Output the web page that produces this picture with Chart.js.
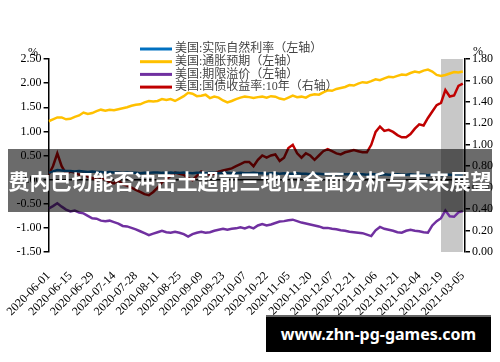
<!DOCTYPE html>
<html>
<head>
<meta charset="utf-8">
<script src="https://cdn.jsdelivr.net/npm/chart.js@4.4.0/dist/chart.umd.min.js"></script>
<style>
html, body { margin: 0; padding: 0; background: #fff; }
#wrap { position: relative; width: 500px; height: 362px; overflow: hidden; }
#banner { position: absolute; left: 8px; top: 149px; width: 484px; height: 63px; background: rgba(0,0,0,0.58);
  color: #fff; font: bold 21px "Noto Sans CJK SC", sans-serif; line-height: 63px; text-align: center; white-space: nowrap; }
#footer { position: absolute; left: 266px; top: 315px; width: 225px; height: 35px; background: #000; border-top: 2px solid #666;
  color: #fff; font: bold 16px "Noto Sans", sans-serif; line-height: 35px; text-align: center; white-space: nowrap; }
</style>
</head>
<body>
<div id="wrap">
  <canvas id="chart" width="500" height="362"></canvas>
  <div id="banner">费内巴切能否冲击土超前三地位全面分析与未来展望</div>
  <div id="footer">www.zhn-pg-games.com</div>
</div>
<script>
// one value every 2 trading days, 2020-06-01 .. 2021-03-05
const STEP = 2;
const tickLabels = ['2020-06-01','2020-06-15','2020-06-29','2020-07-14','2020-07-28','2020-08-11','2020-08-25',
  '2020-09-09','2020-09-23','2020-10-07','2020-10-22','2020-11-05','2020-11-20','2020-12-07','2020-12-21',
  '2021-01-06','2021-01-21','2021-02-04','2021-02-19','2021-03-05'];
const leftTicks = [-1.5, -1.0, -0.5, 0, 0.5, 1.0, 1.5, 2.0, 2.5];
const rightTicks = [0, 0.2, 0.4, 0.6, 0.8, 1.0, 1.2, 1.4, 1.6, 1.8];
const shadeFrom = 180, shadeTo = 190;

const seriesNames = ['美国:实际自然利率（左轴）', '美国:通胀预期（左轴）', '美国:期限溢价（左轴）', '美国:国债收益率:10年（右轴）'];

const realRate = [0.14,0.17,0.20,0.19,0.18,0.18,0.17,0.18,0.17,0.16,
  0.17,0.16,0.16,0.15,0.16,0.15,0.15,0.14,0.15,0.14,
  0.14,0.13,0.14,0.14,0.15,0.15,0.14,0.14,0.15,0.14,
  0.14,0.15,0.14,0.13,0.14,0.14,0.13,0.14,0.14,0.13,
  0.14,0.14,0.13,0.13,0.14,0.13,0.13,0.14,0.13,0.13,
  0.12,0.13,0.13,0.12,0.13,0.12,0.12,0.13,0.12,0.12,
  0.11,0.12,0.12,0.11,0.12,0.11,0.11,0.12,0.11,0.11,
  0.12,0.11,0.11,0.10,0.11,0.11,0.10,0.11,0.10,0.10,
  0.11,0.10,0.10,0.11,0.10,0.10,0.10,0.09,0.10,0.10,
  0.09,0.10,0.10,0.09,0.10,0.10];

const inflationExp = [1.21,1.25,1.29,1.29,1.25,1.26,1.30,1.33,1.39,1.36,
  1.38,1.42,1.45,1.43,1.45,1.44,1.46,1.48,1.50,1.53,
  1.55,1.56,1.60,1.63,1.62,1.63,1.67,1.65,1.67,1.63,
  1.68,1.73,1.80,1.78,1.73,1.74,1.76,1.69,1.72,1.70,
  1.64,1.60,1.63,1.67,1.70,1.72,1.71,1.69,1.71,1.72,
  1.70,1.73,1.72,1.68,1.66,1.70,1.74,1.71,1.72,1.70,
  1.75,1.77,1.76,1.81,1.85,1.84,1.88,1.90,1.92,1.96,
  1.95,1.99,2.02,2.01,2.04,2.08,2.06,2.10,2.13,2.12,
  2.15,2.18,2.17,2.21,2.24,2.22,2.26,2.28,2.24,2.17,
  2.15,2.17,2.20,2.23,2.22,2.24];

const termPremium = [-0.60,-0.55,-0.49,-0.56,-0.62,-0.66,-0.64,-0.68,-0.70,-0.75,
  -0.80,-0.81,-0.85,-0.86,-0.85,-0.88,-0.91,-0.96,-0.97,-1.00,
  -1.03,-1.07,-1.11,-1.15,-1.12,-1.09,-1.06,-1.09,-1.10,-1.08,
  -1.10,-1.13,-1.18,-1.13,-1.10,-1.08,-1.10,-1.09,-1.06,-1.04,
  -1.02,-1.04,-1.02,-1.01,-0.99,-1.01,-0.98,-1.01,-0.95,-0.92,
  -0.95,-0.93,-0.90,-0.87,-0.86,-0.84,-0.83,-0.86,-0.89,-0.91,
  -0.93,-0.95,-0.97,-1.00,-1.00,-1.02,-1.03,-1.05,-1.06,-1.08,
  -1.09,-1.10,-1.11,-1.14,-1.17,-1.05,-0.98,-1.02,-1.04,-1.06,
  -1.09,-1.10,-1.06,-1.04,-1.06,-1.07,-1.09,-1.10,-0.95,-0.86,
  -0.80,-0.64,-0.76,-0.77,-0.68,-0.65];

const yield10y = [0.72,0.80,0.92,0.80,0.73,0.75,0.74,0.72,0.73,0.70,
  0.69,0.67,0.68,0.68,0.65,0.64,0.67,0.63,0.62,0.60,
  0.58,0.56,0.54,0.53,0.56,0.60,0.65,0.68,0.71,0.74,
  0.73,0.72,0.69,0.67,0.71,0.75,0.73,0.72,0.73,0.75,
  0.76,0.77,0.78,0.80,0.82,0.84,0.84,0.80,0.86,0.90,
  0.88,0.90,0.91,0.85,0.88,0.97,1.00,0.92,0.88,0.92,
  0.90,0.86,0.90,0.94,0.96,0.94,0.92,0.91,0.93,0.94,
  0.95,0.94,0.93,0.93,1.00,1.12,1.17,1.13,1.14,1.12,
  1.09,1.07,1.07,1.10,1.15,1.19,1.18,1.25,1.31,1.37,
  1.39,1.51,1.45,1.46,1.55,1.57];

const toPoints = arr => arr.map((v, k) => ({ x: k * STEP, y: v }));
const serif = '"Liberation Serif", "Times New Roman", serif';

// grey band + zero line under the lines
const backdrop = {
  id: 'backdrop',
  beforeDatasetsDraw(chart) {
    const { ctx, chartArea: a, scales } = chart;
    const x1 = scales.x.getPixelForValue(shadeFrom), x2 = scales.x.getPixelForValue(shadeTo);
    ctx.save();
    ctx.fillStyle = '#c8c8c8';
    ctx.fillRect(x1, a.top, x2 - x1, a.bottom - a.top);
    const y0 = scales.yL.getPixelForValue(0);
    ctx.strokeStyle = '#000';
    ctx.lineWidth = 1.5;
    ctx.beginPath(); ctx.moveTo(a.left, y0); ctx.lineTo(a.right, y0); ctx.stroke();
    ctx.restore();
  }
};

// legend inside the plot + % units
const overlay = {
  id: 'overlay',
  afterDatasetsDraw(chart) {
    const ctx = chart.ctx;
    ctx.save();
    ctx.textBaseline = 'middle';
    chart.data.datasets.forEach((ds, i) => {
      const y = 49 + i * 12.7;
      ctx.strokeStyle = ds.borderColor;
      ctx.lineWidth = 3;
      ctx.beginPath(); ctx.moveTo(140, y); ctx.lineTo(172, y); ctx.stroke();
      ctx.fillStyle = '#444';
      ctx.font = '12px ' + serif + ', "Noto Sans CJK SC"';
      ctx.fillText(ds.label, 175, y);
    });
    ctx.fillStyle = '#000';
    ctx.font = '12px ' + serif;
    ctx.fillText('%', 28, 53);
    ctx.fillText('%', 473, 52);
    ctx.restore();
  }
};

const yAxis = (pos, min, max, ticks, width) => ({
  position: pos, min: min, max: max,
  afterBuildTicks: s => { s.ticks = ticks.map(v => ({ value: v })); },
  afterFit: s => { s.width = width; },
  grid: { drawOnChartArea: false, color: '#000', lineWidth: 1.5, tickLength: 5 },
  border: { display: true, color: '#000', width: 1.5 },
  ticks: { color: '#000', padding: 2, font: { family: serif, size: 12 }, callback: v => v.toFixed(2) }
});

new Chart(document.getElementById('chart'), {
  type: 'line',
  data: {
    datasets: [
      { label: seriesNames[0], data: toPoints(realRate), borderColor: '#0070C0', yAxisID: 'yL' },
      { label: seriesNames[1], data: toPoints(inflationExp), borderColor: '#FFC000', yAxisID: 'yL' },
      { label: seriesNames[2], data: toPoints(termPremium), borderColor: '#7030A0', yAxisID: 'yL' },
      { label: seriesNames[3], data: toPoints(yield10y), borderColor: '#C00000', yAxisID: 'yR' }
    ]
  },
  options: {
    responsive: false,
    animation: false,
    layout: { padding: { top: 59, left: 0, right: 0, bottom: 0 } },
    plugins: { legend: { display: false }, tooltip: { enabled: false } },
    elements: { point: { radius: 0 }, line: { borderWidth: 2.5, tension: 0 } },
    scales: {
      x: {
        type: 'linear', min: 0, max: 191,
        afterBuildTicks: s => { s.ticks = tickLabels.map((_, i) => ({ value: i * 10 })); },
        afterFit: s => { s.height = 110; },
        grid: { display: false },
        border: { display: false },
        ticks: { autoSkip: false, minRotation: 45, maxRotation: 45, padding: 9, color: '#000',
          font: { family: serif, size: 12 }, callback: v => tickLabels[v / 10] }
      },
      yL: yAxis('left', -1.5, 2.5, leftTicks, 45),
      yR: yAxis('right', 0, 1.8, rightTicks, 35)
    }
  },
  plugins: [backdrop, overlay]
});
</script>
</body>
</html>
